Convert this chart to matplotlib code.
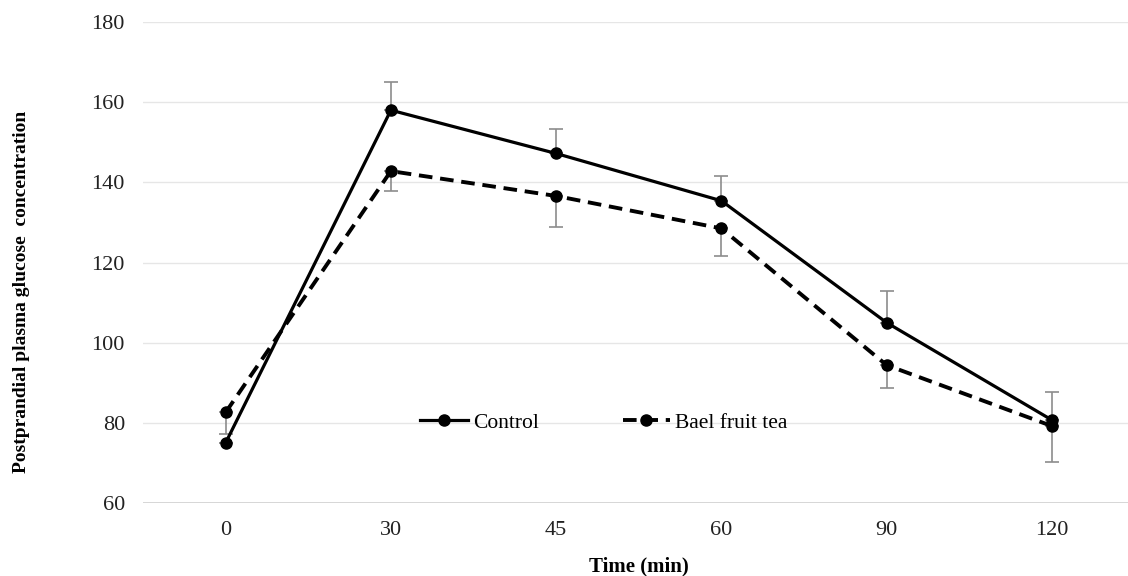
import matplotlib
matplotlib.use("Agg")
import matplotlib.pyplot as plt
import numpy as np

times = ["0", "30", "45", "60", "90", "120"]
control = [75.0, 158.0, 147.2, 135.4, 105.0, 80.7]
control_err = [0.0, 7.1, 6.0, 6.2, 8.0, 7.0]
bael = [82.6, 142.8, 136.6, 128.5, 94.4, 79.2]
bael_err = [5.5, 5.0, 7.8, 7.0, 5.8, 9.0]

plt.rcParams['font.family'] = ['Liberation Serif', 'DejaVu Serif']

fig = plt.figure(figsize=(11.28, 5.76), dpi=100)
W, H = 1128, 576
ax = fig.add_axes([143 / W, 1 - 503 / H, (1134.5 - 143) / W, (503 - 22) / H])

x = np.arange(len(times))
ax.errorbar(x, control, yerr=[np.zeros(len(x)), control_err], fmt='none',
            ecolor='#8c8c8c', elinewidth=1.2, capsize=5, capthick=1.2, zorder=2)
ax.errorbar(x, bael, yerr=[bael_err, np.zeros(len(x))], fmt='none',
            ecolor='#8c8c8c', elinewidth=1.2, capsize=5, capthick=1.2, zorder=2)

ax.plot(x, control, color='black', lw=2.3, marker='o', ms=8, label='Control', zorder=3)
ax.plot(x, bael, color='black', lw=2.8, ls=(0, (3.5, 2)), marker='o', ms=8,
        label='Bael fruit tea', zorder=3)

ax.set_xlim(-0.5, 5.5)
ax.set_ylim(60, 180)
ax.set_yticks(range(60, 181, 20))
ax.set_xticks(x)
ax.set_xticklabels(times)
ax.tick_params(length=0, labelsize=16, colors='#222222')
ax.tick_params(axis='y', pad=13)
ax.tick_params(axis='x', pad=13)
ax.grid(axis='y', color='#e6e6e6', lw=1)
ax.set_axisbelow(True)
for s in ax.spines.values():
    s.set_visible(False)
ax.axhline(60, color='#d0d0d0', lw=1.2, zorder=1)

ax.set_xlabel('Time (min)', fontsize=15, fontweight='bold', labelpad=12)
fig.text(22 / W, 1 - 292 / H, 'Postprandial plasma glucose  concentration', rotation=90,
         fontsize=14, fontweight='bold', ha='center', va='center')

leg = ax.legend(loc='center', bbox_to_anchor=((604 - 143) / (1134.5 - 143), (503 - 423) / 481),
                ncol=2, frameon=False, fontsize=15.5, columnspacing=3.9, handlelength=2.2,
                handletextpad=0.25)

fig.savefig('out.png', dpi=100)
